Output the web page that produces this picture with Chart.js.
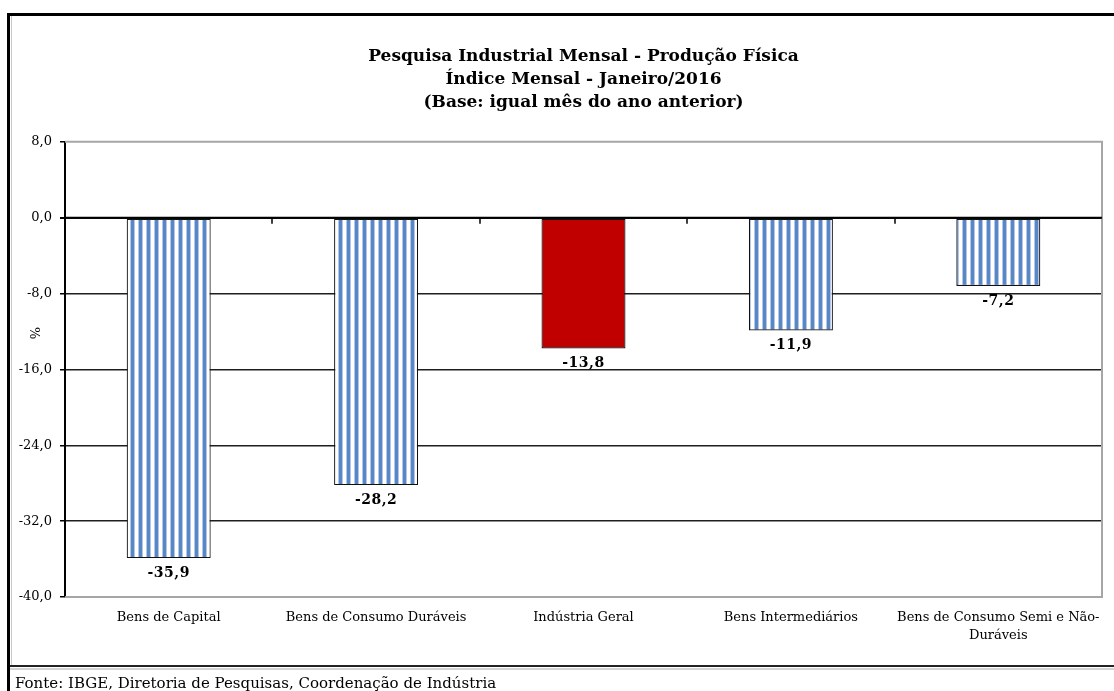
<!DOCTYPE html>
<html lang="pt-BR">
<head>
<meta charset="utf-8">
<title>Pesquisa Industrial Mensal - Produção Física</title>
<script src="https://cdn.jsdelivr.net/npm/chart.js@4.4.1/dist/chart.umd.min.js"></script>
<style>
    html, body { margin: 0; padding: 0; background: #fff; }
    #wrap { position: relative; width: 1114px; height: 691px; overflow: hidden; }
    #chart { position: absolute; left: 0; top: 0; }
    .line { position: absolute; }
    #fonte {
        position: absolute; left: 15px; top: 673px;
        font-family: 'DejaVu Serif', serif; font-size: 15px; line-height: 20px;
        color: #000; white-space: nowrap;
    }
</style>
</head>
<body>
<div id="wrap">
    <canvas id="chart" width="1114" height="691"></canvas>
    <!-- moldura -->
    <div class="line" style="left:8px; top:13px; width:1106px; height:3px; background:#000"></div>
    <div class="line" style="left:7px; top:13px; width:3px; height:678px; background:#000"></div>
    <div class="line" style="left:11px; top:16px; width:1px; height:649px; background:#c8c8c8"></div>
    <div class="line" style="left:10px; top:665px; width:1104px; height:2px; background:#222"></div>
    <div class="line" style="left:10px; top:668px; width:1104px; height:2px; background:#d4d4d4"></div>
    <div id="fonte">Fonte: IBGE, Diretoria de Pesquisas, Coordenação de Indústria</div>
</div>
<script>
// Dados do gráfico
const categories = [
    'Bens de Capital',
    'Bens de Consumo Duráveis',
    'Indústria Geral',
    'Bens Intermediários',
    ['Bens de Consumo Semi e Não-', 'Duráveis']
];
const variations = [-35.9, -28.2, -13.8, -11.9, -7.2];
const highlightIndex = 2; // Indústria Geral
const yMin = -40;
const yMax = 8;
const yStep = 8;

const titleLines = [
    'Pesquisa Industrial Mensal - Produção Física',
    'Índice Mensal - Janeiro/2016',
    '(Base: igual mês do ano anterior)'
];

const FONT = "'DejaVu Serif', serif";

// formato brasileiro com vírgula
function fmt(v) {
    return v.toFixed(1).replace('.', ',');
}

// listras verticais azuis
function makeStripePattern() {
    const c = document.createElement('canvas');
    c.width = 8;
    c.height = 8;
    const g = c.getContext('2d');
    g.fillStyle = '#ffffff';
    g.fillRect(0, 0, 8, 8);
    g.fillStyle = '#b3c8e6';
    g.fillRect(2, 0, 1, 8);
    g.fillRect(6, 0, 1, 8);
    g.fillStyle = '#5887c4';
    g.fillRect(3, 0, 3, 8);
    return g.createPattern(c, 'repeat');
}

const stripes = makeStripePattern();
const barColors = variations.map((v, i) => i === highlightIndex ? '#c00000' : stripes);

// borda da área do gráfico, ticks do eixo x no zero, "%" e rótulos
const extrasPlugin = {
    id: 'extras',
    beforeDatasetsDraw(chart) {
        const { ctx, chartArea: a } = chart;
        ctx.save();
        ctx.strokeStyle = '#a6a6a6';
        ctx.lineWidth = 2;
        ctx.beginPath();
        ctx.moveTo(a.left, a.top);
        ctx.lineTo(a.right, a.top);
        ctx.lineTo(a.right, a.bottom);
        ctx.lineTo(a.left, a.bottom);
        ctx.stroke();
        ctx.restore();
    },
    afterDatasetsDraw(chart) {
        const { ctx, chartArea: a, scales } = chart;
        const x = scales.x;
        const y0 = scales.y.getPixelForValue(0);

        ctx.save();
        // linha do zero por cima das barras
        ctx.strokeStyle = '#000';
        ctx.lineWidth = 2;
        ctx.beginPath();
        ctx.moveTo(a.left, y0);
        ctx.lineTo(a.right, y0);
        ctx.stroke();

        ctx.lineWidth = 1.5;
        for (let i = 1; i < categories.length; i++) {
            const px = Math.round((x.getPixelForValue(i - 1) + x.getPixelForValue(i)) / 2);
            ctx.beginPath();
            ctx.moveTo(px, y0);
            ctx.lineTo(px, y0 + 6);
            ctx.stroke();
        }

        // rótulos de dados
        ctx.fillStyle = '#000';
        ctx.font = 'bold 14px ' + FONT;
        ctx.letterSpacing = '0.5px';
        ctx.textAlign = 'center';
        ctx.textBaseline = 'middle';
        chart.getDatasetMeta(0).data.forEach((bar, i) => {
            ctx.fillText(fmt(variations[i]), bar.x, bar.y + 15);
        });

        // título do eixo y
        ctx.letterSpacing = '0px';
        ctx.font = '13px ' + FONT;
        ctx.translate(37, a.top + (a.bottom - a.top) * 0.42);
        ctx.rotate(-Math.PI / 2);
        ctx.fillText('%', 0, 0);
        ctx.restore();
    }
};

new Chart(document.getElementById('chart'), {
    type: 'bar',
    data: {
        labels: categories,
        datasets: [{
            data: variations,
            backgroundColor: barColors,
            borderColor: '#111',
            borderWidth: 1.2,
            borderSkipped: false,
            barPercentage: 1,
            categoryPercentage: 0.405
        }]
    },
    options: {
        responsive: false,
        animation: false,
        devicePixelRatio: 1,
        layout: {
            padding: { top: 30, right: 12, bottom: 34, left: 0 }
        },
        plugins: {
            legend: { display: false },
            tooltip: { enabled: false },
            title: {
                display: true,
                fullSize: false,
                text: titleLines,
                color: '#000',
                font: { family: FONT, size: 17, weight: 'bold', lineHeight: 1.35 },
                padding: { top: 15, bottom: 28 }
            }
        },
        scales: {
            x: {
                offset: true,
                grid: { display: false, drawTicks: false },
                border: { display: false },
                ticks: {
                    color: '#000',
                    font: { family: FONT, size: 13, lineHeight: 1.35 },
                    padding: 12,
                    maxRotation: 0,
                    autoSkip: false
                },
                afterFit(scale) { scale.height = 60; }
            },
            y: {
                min: yMin,
                max: yMax,
                ticks: {
                    stepSize: yStep,
                    color: '#000',
                    font: { family: FONT, size: 13 },
                    padding: 8,
                    callback: v => fmt(v)
                },
                grid: {
                    drawTicks: true,
                    tickLength: 5,
                    tickColor: '#000',
                    color: ctx => {
                        const v = ctx.tick.value;
                        if (v === yMax || v === yMin) return 'rgba(0,0,0,0)';
                        return '#1e1e1e';
                    },
                    lineWidth: ctx => ctx.tick.value === 0 ? 2 : 1.5
                },
                border: { display: true, color: '#000', width: 2 },
                afterFit(scale) { scale.width = 65; }
            }
        }
    },
    plugins: [extrasPlugin]
});
</script>
</body>
</html>
